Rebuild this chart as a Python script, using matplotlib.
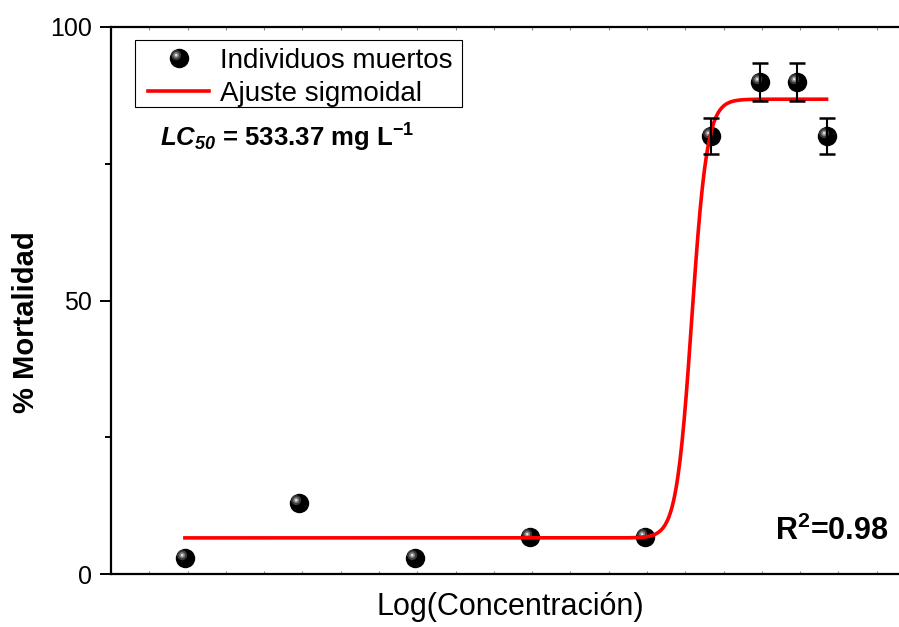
import numpy as np
import matplotlib.pyplot as plt
from matplotlib.path import Path
from matplotlib.patches import Rectangle
from matplotlib.legend_handler import HandlerTuple

plt.rcParams['font.family'] = ['Liberation Sans', 'DejaVu Sans']
plt.rcParams['mathtext.fontset'] = 'custom'
plt.rcParams['mathtext.rm'] = 'Liberation Sans'
plt.rcParams['mathtext.it'] = 'Liberation Sans:italic'
plt.rcParams['mathtext.bf'] = 'Liberation Sans:bold'
plt.rcParams['mathtext.bfit'] = 'Liberation Sans:bold:italic'

# mortalidad observada
log_conc = [1.93, 4.90, 7.94, 10.94, 13.94, 15.68, 16.94, 17.91, 18.69]
mortalidad = [3.0, 13.0, 3.0, 6.8, 6.8, 80.0, 90.0, 90.0, 80.0]
error = [0, 0, 0, 0, 0, 3.3, 3.5, 3.5, 3.3]

# parametros del ajuste sigmoidal (Boltzmann)
A1 = 6.6
A2 = 86.8
x0 = 15.17
dx = 0.2
r2 = "0.98"
lc50 = "533.37"

xfit = np.linspace(min(log_conc), max(log_conc), 600)
yfit = A2 + (A1 - A2) / (1 + np.exp((xfit - x0) / dx))

W, H = 899, 627
fig = plt.figure(figsize=(W/100, H/100), dpi=100)
ax = fig.add_axes([111/W, 53/H, 804/W, 547/H])

# esfera: circulo negro + brillo desplazado arriba a la izquierda (3 capas)
brillos = [
    (Path.circle(center=(-0.4, 0.4), radius=0.6), 12.0, '#3c3c3c'),
    (Path.circle(center=(-0.4, 0.4), radius=0.35), 9.0, '#858585'),
    (Path.circle(center=(-0.4, 0.4), radius=0.15), 6.6, '#e2e2e2'),
]

ball, = ax.plot(log_conc, mortalidad, 'o', color='black', ms=14, mew=0, zorder=3)
capas = [ball]
for k, (p, ms, c) in enumerate(brillos):
    h, = ax.plot(log_conc, mortalidad, marker=p, ls='none', color=c, ms=ms, mew=0, zorder=3.1 + 0.1*k)
    capas.append(h)

fit_line, = ax.plot(xfit, yfit, color='#ff0000', lw=2.6, zorder=4)

up = [i for i, e in enumerate(error) if e > 0]
ax.errorbar([log_conc[i] for i in up], [mortalidad[i] for i in up], yerr=[error[i] for i in up],
            fmt='none', ecolor='black', elinewidth=1.5, capsize=6, capthick=1.8, zorder=5)

ax.set_xlim(0, 21)
ax.set_ylim(0, 100)
ax.set_xticks(np.arange(0, 22))
ax.set_xticklabels([])
ax.set_yticks([0, 50, 100])
ax.set_yticks([25, 75], minor=True)
ax.tick_params(axis='y', which='major', direction='out', length=8, width=1.4, labelsize=18, pad=6)
ax.tick_params(axis='y', which='minor', direction='out', length=4, width=1.4)
ax.tick_params(axis='x', which='major', direction='in', length=2.5, width=0.8, color='#888888',
               top=True, bottom=True)
ax.tick_params(axis='y', right=False)
for s in ['left', 'bottom', 'top', 'right']:
    ax.spines[s].set_linewidth(1.6)

# leyenda sin marco propio; el recuadro se dibuja aparte
leg = ax.legend([tuple(capas), fit_line], ['Individuos muertos', 'Ajuste sigmoidal'],
                handler_map={tuple: HandlerTuple(ndivide=1)}, numpoints=1,
                loc='upper left', bbox_to_anchor=(148/W, 1 - 48/H),
                bbox_transform=fig.transFigure,
                borderaxespad=0, fontsize=20, frameon=False,
                handlelength=2.2, handletextpad=0.4,
                labelspacing=0.26, borderpad=0)
fig.add_artist(Rectangle((135/W, 1 - 107/H), 327/W, 67/H, transform=fig.transFigure,
                         fill=False, edgecolor='black', linewidth=0.8, zorder=6))

ax.text((160-111)/804, (574-147)/547,
        r'$\mathbfit{LC}_{\mathbfit{50}}$' + ' = ' + lc50 + r' mg L$^{\mathbf{-1}}$',
        transform=ax.transAxes, fontsize=18.5, fontweight='bold', ha='left', va='baseline')
ax.text((775-111)/804, (574-540)/547, r'R$^{\mathbf{2}}$=' + r2,
        transform=ax.transAxes, fontsize=22, fontweight='bold', ha='left', va='baseline')

fig.text(510/W, 1 - 607/H, 'Log(Concentración)', fontsize=22, ha='center', va='center')
fig.text(26/W, 1 - 322/H, '% Mortalidad', fontsize=21, fontweight='bold',
         rotation=90, ha='center', va='center')

fig.savefig('out.png', dpi=100)
